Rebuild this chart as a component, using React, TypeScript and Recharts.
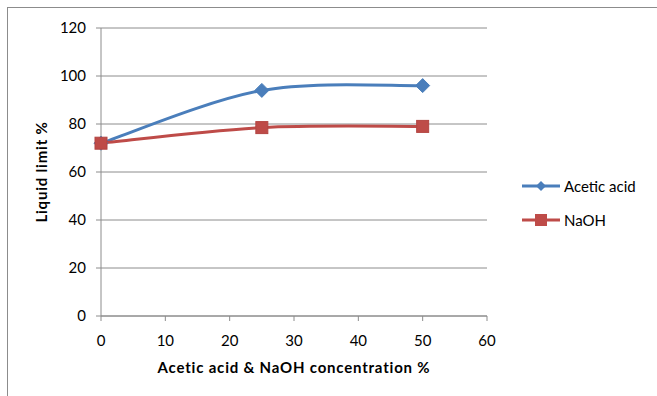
import { LineChart, Line, XAxis, YAxis, CartesianGrid } from 'recharts'

const concentration = [0, 25, 50]
const aceticAcid = [72, 94, 96]
const naoh = [72, 78.5, 79]
const xTicks = [0, 10, 20, 30, 40, 50, 60]
const yTicks = [0, 20, 40, 60, 80, 100, 120]

const BLUE = '#4a7ebb'
const RED = '#be4b48'
const FONT = 'Lato, "Liberation Sans", sans-serif'

const data = concentration.map((c, i) => ({ c, acetic: aceticAcid[i], naoh: naoh[i] }))

const series = [
  { key: 'acetic', name: 'Acetic acid', color: BLUE, marker: 'diamond' },
  { key: 'naoh', name: 'NaOH', color: RED, marker: 'square' },
]

// Excel-style smoothed line: bezier with control points at +-(next - prev)/6
function excelSmooth(context: any) {
  let pts: [number, number][] = []
  return {
    areaStart() {},
    areaEnd() {},
    lineStart() {
      pts = []
    },
    point(x: number, y: number) {
      pts.push([+x, +y])
    },
    lineEnd() {
      if (!pts.length) return
      context.moveTo(pts[0][0], pts[0][1])
      for (let i = 0; i < pts.length - 1; i++) {
        const p0 = pts[i - 1] ?? pts[i]
        const p1 = pts[i]
        const p2 = pts[i + 1]
        const p3 = pts[i + 2] ?? pts[i + 1]
        context.bezierCurveTo(
          p1[0] + (p2[0] - p0[0]) / 6,
          p1[1] + (p2[1] - p0[1]) / 6,
          p2[0] - (p3[0] - p1[0]) / 6,
          p2[1] - (p3[1] - p1[1]) / 6,
          p2[0],
          p2[1]
        )
      }
    },
  }
}

function Diamond({ cx, cy }: any) {
  if (cx == null || cy == null) return null
  const r = 7
  return (
    <polygon
      points={`${cx},${cy - r} ${cx + r},${cy} ${cx},${cy + r} ${cx - r},${cy}`}
      fill={BLUE}
      stroke={BLUE}
    />
  )
}

function Square({ cx, cy }: any) {
  if (cx == null || cy == null) return null
  const s = 6
  return <rect x={cx - s} y={cy - s} width={s * 2} height={s * 2} fill={RED} stroke="#b34542" />
}

function LegendBox() {
  return (
    <div style={{ fontFamily: FONT, fontSize: 15, color: '#000' }}>
      {series.map((r) => (
        <div key={r.name} style={{ display: 'flex', alignItems: 'center', height: 34 }}>
          <svg width={40} height={16} style={{ marginRight: 2 }}>
            <line x1={0} y1={8} x2={38} y2={8} stroke={r.color} strokeWidth={3} />
            {r.marker === 'diamond' ? (
              <polygon points="19,3 24,8 19,13 14,8" fill={r.color} />
            ) : (
              <rect x={13} y={2} width={12} height={12} fill={r.color} />
            )}
          </svg>
          <span>{r.name}</span>
        </div>
      ))}
    </div>
  )
}

export default function App() {
  return (
    <div
      style={{
        position: 'absolute',
        left: 0,
        top: 0,
        width: 657,
        height: 396,
        overflow: 'hidden',
        background: '#fff',
      }}
    >
      <div
        style={{
          position: 'absolute',
          left: 7,
          top: 7,
          width: 720,
          height: 440,
          border: '1px solid #8c8c8c',
        }}
      />
      <div style={{ position: 'absolute', left: 0, top: 0 }}>
        <LineChart
          width={657}
          height={396}
          data={data}
          margin={{ top: 28, right: 170, bottom: 0, left: 0 }}
          style={{ fontFamily: FONT }}
        >
          <CartesianGrid vertical={false} stroke="#8c8c8c" strokeWidth={1} />
          <XAxis
            dataKey="c"
            type="number"
            domain={[0, 60]}
            ticks={xTicks}
            interval={0}
            height={80}
            stroke="#8c8c8c"
            tickSize={5}
            tickMargin={14}
            tick={{ fill: '#000', fontSize: 15 }}
            label={{
              value: 'Acetic acid & NaOH concentration %',
              position: 'insideBottom',
              offset: 23,
              style: { fontWeight: 'bold', fontSize: 15, letterSpacing: 0.8, fill: '#000' },
            }}
          />
          <YAxis
            type="number"
            domain={[0, 120]}
            ticks={yTicks}
            interval={0}
            width={101}
            stroke="#8c8c8c"
            tickSize={5}
            tickMargin={10}
            tick={{ fill: '#000', fontSize: 15 }}
            label={{
              value: 'Liquid limit %',
              angle: -90,
              position: 'insideLeft',
              offset: 42,
              style: {
                fontWeight: 'bold',
                fontSize: 15,
                letterSpacing: 0.8,
                fill: '#000',
                textAnchor: 'middle',
              },
            }}
          />
          <Line
            dataKey="acetic"
            name="Acetic acid"
            type={excelSmooth as any}
            stroke={BLUE}
            strokeWidth={3}
            dot={<Diamond />}
            activeDot={false}
            isAnimationActive={false}
          />
          <Line
            dataKey="naoh"
            name="NaOH"
            type={excelSmooth as any}
            stroke={RED}
            strokeWidth={3}
            dot={<Square />}
            activeDot={false}
            isAnimationActive={false}
          />
        </LineChart>
      </div>
      <div style={{ position: 'absolute', left: 522, top: 169 }}>
        <LegendBox />
      </div>
    </div>
  )
}
